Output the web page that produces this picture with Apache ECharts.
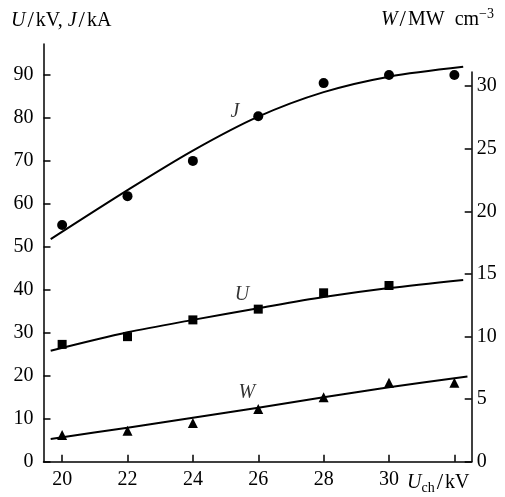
<!DOCTYPE html>
<html>
<head>
<meta charset="utf-8">
<script src="https://cdn.jsdelivr.net/npm/echarts@6/dist/echarts.min.js"></script>
<style>
html,body{margin:0;padding:0;background:#fff;}
#c{width:505px;height:497px;}
</style>
</head>
<body>
<div id="c"></div>
<script>
// ---- data ----
const xTicks = [20, 22, 24, 26, 28, 30, 32];
const xLabels = [20, 22, 24, 26, 28, 30];
const leftTicks = [0, 10, 20, 30, 40, 50, 60, 70, 80, 90];
const rightTicks = [0, 5, 10, 15, 20, 25, 30];

const uchJ = [20, 22, 24, 26, 28, 30, 32];
const jMeas = [55.1, 61.8, 70.0, 80.4, 88.1, 90.0, 90.0];
const uchU = [20, 22, 24, 26, 28, 30];
const uMeas = [27.3, 29.1, 33.0, 35.5, 39.3, 41.0];
const uchW = [20, 22, 24, 26, 28, 30, 32];
const wMeas = [2.13, 2.48, 3.1, 4.2, 5.15, 6.3, 6.3];

const fitX = [19.65, 22, 24, 26, 28, 30, 32.27];
const jFit = [51.8, 63.2, 72.4, 80.3, 86.0, 89.6, 91.9];
const uFit = [25.8, 30.1, 33.0, 35.7, 38.3, 40.4, 42.3];
const wFitX = [19.65, 22, 24, 26, 28, 30, 32.4];
const wFit = [1.81, 2.72, 3.51, 4.31, 5.14, 5.94, 6.8];

const curveNames = ['J', 'U', 'W'];
const curveLabelAt = [[25.29, 81.45], [25.5, 38.8], [25.65, 16.06]];

// ---- chart ----
const zip = (xs, ys) => xs.map((x, i) => [x, ys[i]]);
const FONT = 'Liberation Serif';
const FS = 20;
const black = '#000';
const chart = echarts.init(document.getElementById('c'), null, {renderer: 'canvas'});

const xBase = {
  type: 'value', min: 19.43, max: 32.53,
  splitLine: {show: false}
};
const base = {fontFamily: FONT, fontWeight: 'normal', color: black};
const rich = {
  i: Object.assign({}, base, {fontStyle: 'italic', fontSize: FS}),
  n: Object.assign({}, base, {fontSize: FS}),
  sl: Object.assign({}, base, {fontSize: 23, padding: [0, 2, 0, 2]}),
  sub: Object.assign({}, base, {fontSize: 14, padding: [10, 0, 0, 0]}),
  sup: Object.assign({}, base, {fontSize: 14, padding: [0, 0, 11, 0]})
};
const labelStyle = {color: black, fontFamily: FONT, fontSize: FS};

chart.setOption({
  animation: false,
  backgroundColor: '#fff',
  title: [
    {left: 6, top: 4, text: '{i|U}{sl|/}{n|kV, }{i|J}{sl|/}{n|kA}', textStyle: {rich}},
    {right: 6, top: 2, text: '{i|W}{sl|/}{n|MW  cm}{sup|−3}', textStyle: {rich}},
    {left: 402, top: 466, text: '{i|U}{sub|ch}{sl|/}{n|kV}', textStyle: {rich}}
  ],
  grid: [
    {left: 43.5, right: 33.3, top: 44, bottom: 35.3},
    {left: 43.5, right: 33.3, top: 72, bottom: 35.3}
  ],
  xAxis: [
    Object.assign({}, xBase, {
      gridIndex: 0,
      axisLine: {show: true, onZero: false, lineStyle: {color: black, width: 1.5}},
      axisTick: {show: true, inside: true, length: 7, customValues: xTicks, lineStyle: {color: black, width: 1.5}},
      axisLabel: Object.assign({show: true, customValues: xLabels, margin: 8}, labelStyle)
    }),
    Object.assign({}, xBase, {gridIndex: 1, show: false})
  ],
  yAxis: [
    {
      type: 'value', gridIndex: 0, min: 0, max: 97.2, position: 'left',
      splitLine: {show: false},
      axisLine: {show: true, lineStyle: {color: black, width: 1.5}},
      axisTick: {show: true, inside: true, length: 7, customValues: leftTicks, lineStyle: {color: black, width: 1.5}},
      axisLabel: Object.assign({customValues: leftTicks, margin: 10}, labelStyle)
    },
    {
      type: 'value', gridIndex: 1, min: 0, max: 31.13, position: 'right',
      splitLine: {show: false},
      axisLine: {show: true, lineStyle: {color: black, width: 1.5}},
      axisTick: {show: true, inside: true, length: 7, customValues: rightTicks, lineStyle: {color: black, width: 1.5}},
      axisLabel: Object.assign({customValues: rightTicks, margin: 5}, labelStyle)
    }
  ],
  series: [
    {type: 'line', name: 'J fit', data: zip(fitX, jFit), smooth: 0.3, showSymbol: false,
      lineStyle: {color: black, width: 2}, xAxisIndex: 0, yAxisIndex: 0},
    {type: 'line', name: 'U fit', data: zip(fitX, uFit), smooth: 0.3, showSymbol: false,
      lineStyle: {color: black, width: 2}, xAxisIndex: 0, yAxisIndex: 0},
    {type: 'line', name: 'W fit', data: zip(wFitX, wFit), smooth: 0.3, showSymbol: false,
      lineStyle: {color: black, width: 2}, xAxisIndex: 1, yAxisIndex: 1},
    {type: 'scatter', name: 'J', data: zip(uchJ, jMeas), symbol: 'circle', symbolSize: 10,
      itemStyle: {color: black, opacity: 1}, xAxisIndex: 0, yAxisIndex: 0},
    {type: 'scatter', name: 'U', data: zip(uchU, uMeas), symbol: 'rect', symbolSize: 9,
      itemStyle: {color: black, opacity: 1}, xAxisIndex: 0, yAxisIndex: 0},
    {type: 'scatter', name: 'W', data: zip(uchW, wMeas), symbol: 'triangle', symbolSize: 10,
      itemStyle: {color: black, opacity: 1}, xAxisIndex: 1, yAxisIndex: 1},
    {type: 'scatter', name: 'labels', symbolSize: 0, xAxisIndex: 0, yAxisIndex: 0,
      data: curveLabelAt.map((p, i) => [p[0], p[1], curveNames[i]]),
      label: {show: true, position: 'inside', formatter: p => p.value[2],
        fontFamily: FONT, fontStyle: 'italic', fontSize: FS, color: black}}
  ]
});
</script>
</body>
</html>
